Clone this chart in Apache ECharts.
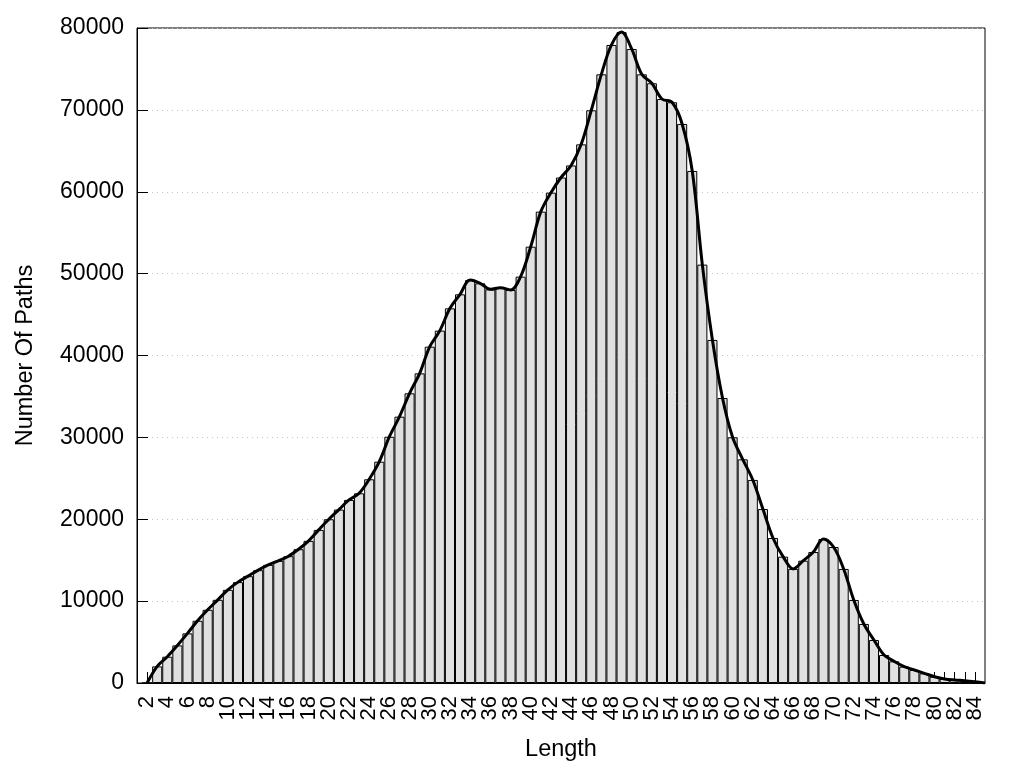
<!DOCTYPE html>
<html>
<head>
<meta charset="utf-8">
<script src="https://cdn.jsdelivr.net/npm/echarts@6/dist/echarts.min.js"></script>
<style>html,body{margin:0;padding:0;background:#fff}#c{width:1024px;height:768px}</style>
</head>
<body>
<div id="c"></div>
<script>
// Path lengths (category axis runs 1..85)
var lengths = [];
for (var i = 1; i <= 85; i++) lengths.push(String(i));

// Number of paths for length 2..84
var pathCounts = [
  0, 2030, 3210, 4590, 6060, 7600, 8940, 10160, 11380, 12320,
  13050, 13780, 14430, 14920, 15490, 16340, 17360, 18700, 20000, 21180,
  22360, 23170, 24880, 27030, 30080, 32530, 35380, 37820, 41080, 43040,
  45760, 47470, 49220, 48820, 48080, 48290, 48000, 49630, 53290, 57570,
  59890, 61740, 63210, 65790, 69950, 74340, 77930, 79500, 77440, 74340,
  73250, 71330, 70930, 68280, 62540, 51100, 41900, 34810, 30010, 27320,
  24800, 21250, 17710, 15430, 13930, 14940, 16000, 17590, 16610, 13930,
  10140, 7210, 5250, 3420, 2650, 2000, 1590, 1180, 770, 490,
  370, 290, 160
];
// smooth curve continues to length 85
var curveTail = [0];

var barData = [null].concat(pathCounts).concat([null]);
var lineData = [null].concat(pathCounts).concat(curveTail);

var yTicks = { min: 0, max: 80000, interval: 10000 };
var FONT = "'Liberation Sans', Arial, sans-serif";

var lastIdx = lengths.length - 1;
var chart = echarts.init(document.getElementById('c'), null, { renderer: 'canvas' });
chart.setOption({
  animation: false,
  backgroundColor: '#fff',
  textStyle: { fontFamily: FONT, color: '#000' },
  grid: { left: 137, right: 39, top: 28, bottom: 85, show: true, borderColor: '#000', borderWidth: 1, backgroundColor: 'transparent' },
  xAxis: {
    type: 'category',
    data: lengths,
    boundaryGap: false,
    name: 'Length',
    nameLocation: 'middle',
    nameGap: 55,
    nameTextStyle: { fontSize: 23.5, color: '#000', fontFamily: FONT },
    axisLine: { show: true, lineStyle: { color: '#000', width: 1 } },
    axisTick: { show: true, inside: true, length: 11, interval: 0, lineStyle: { color: '#000', width: 1 } },
    axisLabel: {
      rotate: 90,
      margin: 13,
      fontSize: 22,
      color: '#000',
      fontFamily: FONT,
      showMinLabel: false,
      showMaxLabel: false,
      hideOverlap: false,
      interval: function (idx, val) { return idx === 0 || idx === lastIdx || (+val) % 2 === 0; },
      formatter: function (val) { return (+val) % 2 === 0 ? val : ''; }
    },
    splitLine: { show: false }
  },
  yAxis: {
    type: 'value',
    min: yTicks.min,
    max: yTicks.max,
    interval: yTicks.interval,
    name: 'Number Of Paths',
    nameLocation: 'middle',
    nameGap: 99,
    nameTextStyle: { fontSize: 23.5, color: '#000', fontFamily: FONT },
    axisLine: { show: true, lineStyle: { color: '#000', width: 1 } },
    axisTick: { show: true, inside: true, length: 11, lineStyle: { color: '#000', width: 1 } },
    axisLabel: { fontSize: 23, color: '#000', margin: 13, fontFamily: FONT, formatter: function (v) { return String(v); } },
    splitLine: { show: true, lineStyle: { color: '#c4c4c4', width: 1, type: [1, 4] } }
  },
  series: [
    {
      type: 'bar',
      data: barData,
      barWidth: '100%',
      itemStyle: { color: '#e0e0e0', borderColor: '#000', borderWidth: 1 },
      z: 2
    },
    {
      type: 'line',
      data: lineData,
      smooth: 0.35,
      showSymbol: false,
      symbol: 'none',
      lineStyle: { color: '#000', width: 3 },
      z: 5
    }
  ]
});
</script>
</body>
</html>
